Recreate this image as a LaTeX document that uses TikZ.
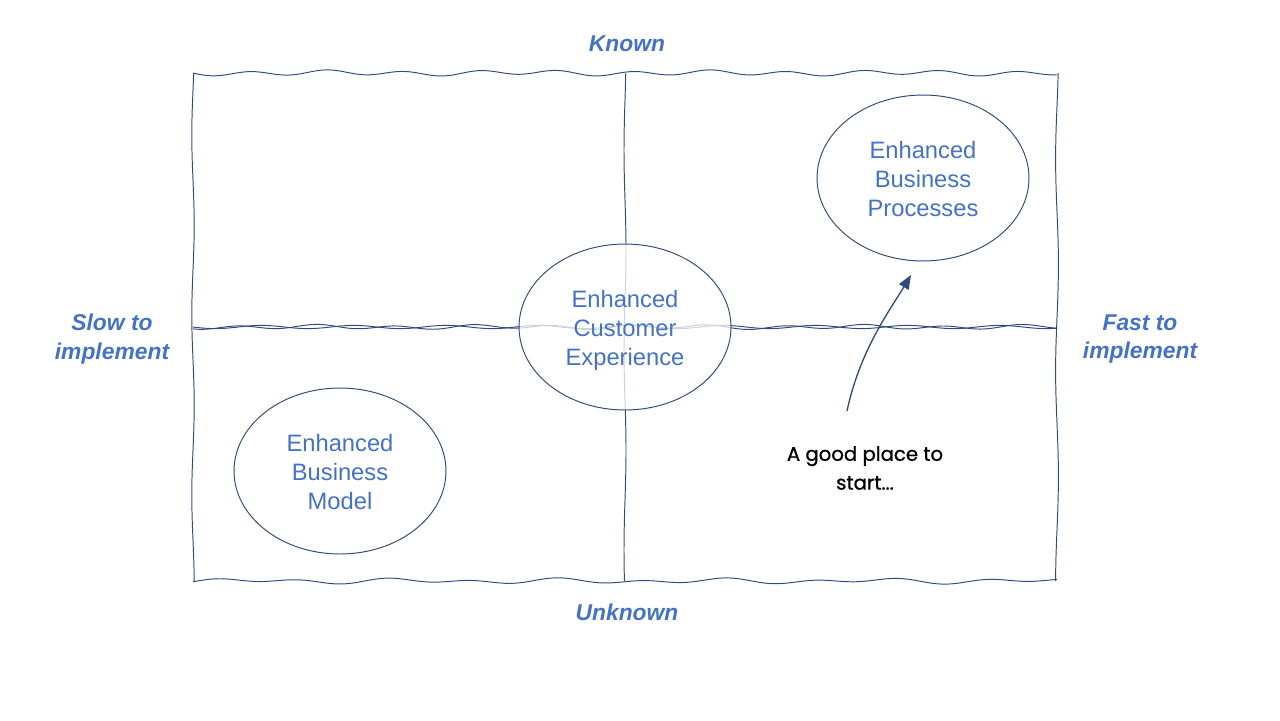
\documentclass[tikz,border=0pt]{standalone}
\usepackage{fontspec}
\setmainfont{Liberation Sans}
\newfontfamily\handfont[FakeBold=0.9]{Poppins}
\usetikzlibrary{arrows.meta,shapes.geometric}
\definecolor{inkblue}{HTML}{2F4B7C}
\definecolor{textblue}{HTML}{4472C4}
\newcommand\toplift{\rule{0pt}{13.6pt}}
\newcommand\lowdrop{\rule[-2.9pt]{0pt}{0pt}}
\tikzset{
	edge/.style={draw=inkblue, line width=0.55pt},
	bubble/.style={ellipse, draw=inkblue, line width=0.55pt, fill=white, fill opacity=0.75, text opacity=1,
		minimum width=4.24cm, minimum height=3.32cm, inner sep=0pt, align=center,
		text=textblue, font=\fontsize{13.5}{16.6}\selectfont},
	axislabel/.style={text=textblue, align=center, font=\fontsize{13}{16.4}\selectfont\bfseries\itshape},
	note/.style={align=center, font=\handfont\fontsize{11.2}{16.4}\selectfont},
	pointer/.style={draw=inkblue, line width=0.75pt, -{Triangle[length=0.28cm, width=0.22cm]}}
}
\begin{document}
\begin{tikzpicture}[x=0.02cm, y=-0.02cm]
		%%%%% START %%%%%
		\useasboundingbox (0, 0) rectangle (1280, 720);
		
		% outer frame
		\draw[edge] plot[domain=193:1057, samples=300] (\x, {73+2.2*sin(4.7*(\x-193))+0.9*sin(1.9*\x)});
		\draw[edge] plot[domain=193:1057, samples=300] (\x, {581+1.8*sin(4.2*(\x-150))+1.4*sin(2.3*\x+60)});
		\draw[edge] plot[variable=\t, domain=73:581, samples=120] ({193+1.2*sin(2*\t)}, \t);
		\draw[edge] plot[variable=\t, domain=73:581, samples=120] ({1057+1.4*sin(1.7*\t)}, \t);
		
		% cross lines
		\draw[edge] plot[domain=193:1057, samples=300] (\x, {327+1.8*sin(4.6*(\x-180))+0.8*sin(2*\x)});
		\draw[edge] plot[domain=193:1057, samples=300] (\x, {327+1.6*sin(3.9*(\x-100))});
		\draw[edge] plot[variable=\t, domain=73:581, samples=120] ({625+1.0*sin(1.8*\t)}, \t);
		
		% bubbles
		\node[bubble] (process) at (923, 178) {\toplift Enhanced\\Business\\Processes\lowdrop};
		\node[bubble] (customer) at (625, 327) {\toplift Enhanced\\Customer\\Experience\lowdrop};
		\node[bubble] (model) at (340, 471) {\toplift Enhanced\\Business\\Model\lowdrop};
		
		% axis labels
		\node[axislabel] (known) at (627, 44) {Known};
		\node[axislabel] (unknown) at (627, 612) {Unknown};
		\node[axislabel] (slow) at (112, 339) {Slow to\\implement};
		\node[axislabel] (fast) at (1140, 339) {Fast to\\implement};
		
		% hint
		\node[note] (start) at (865, 468) {A good place to\\start...};
		\coordinate (tail) at (847, 411);
		\coordinate (head) at (911, 275);
		\draw[pointer] (tail) .. controls (860, 350) and (890, 310) .. (head);
		
		%%%%% END %%%%%
	\end{tikzpicture}
\end{document}
